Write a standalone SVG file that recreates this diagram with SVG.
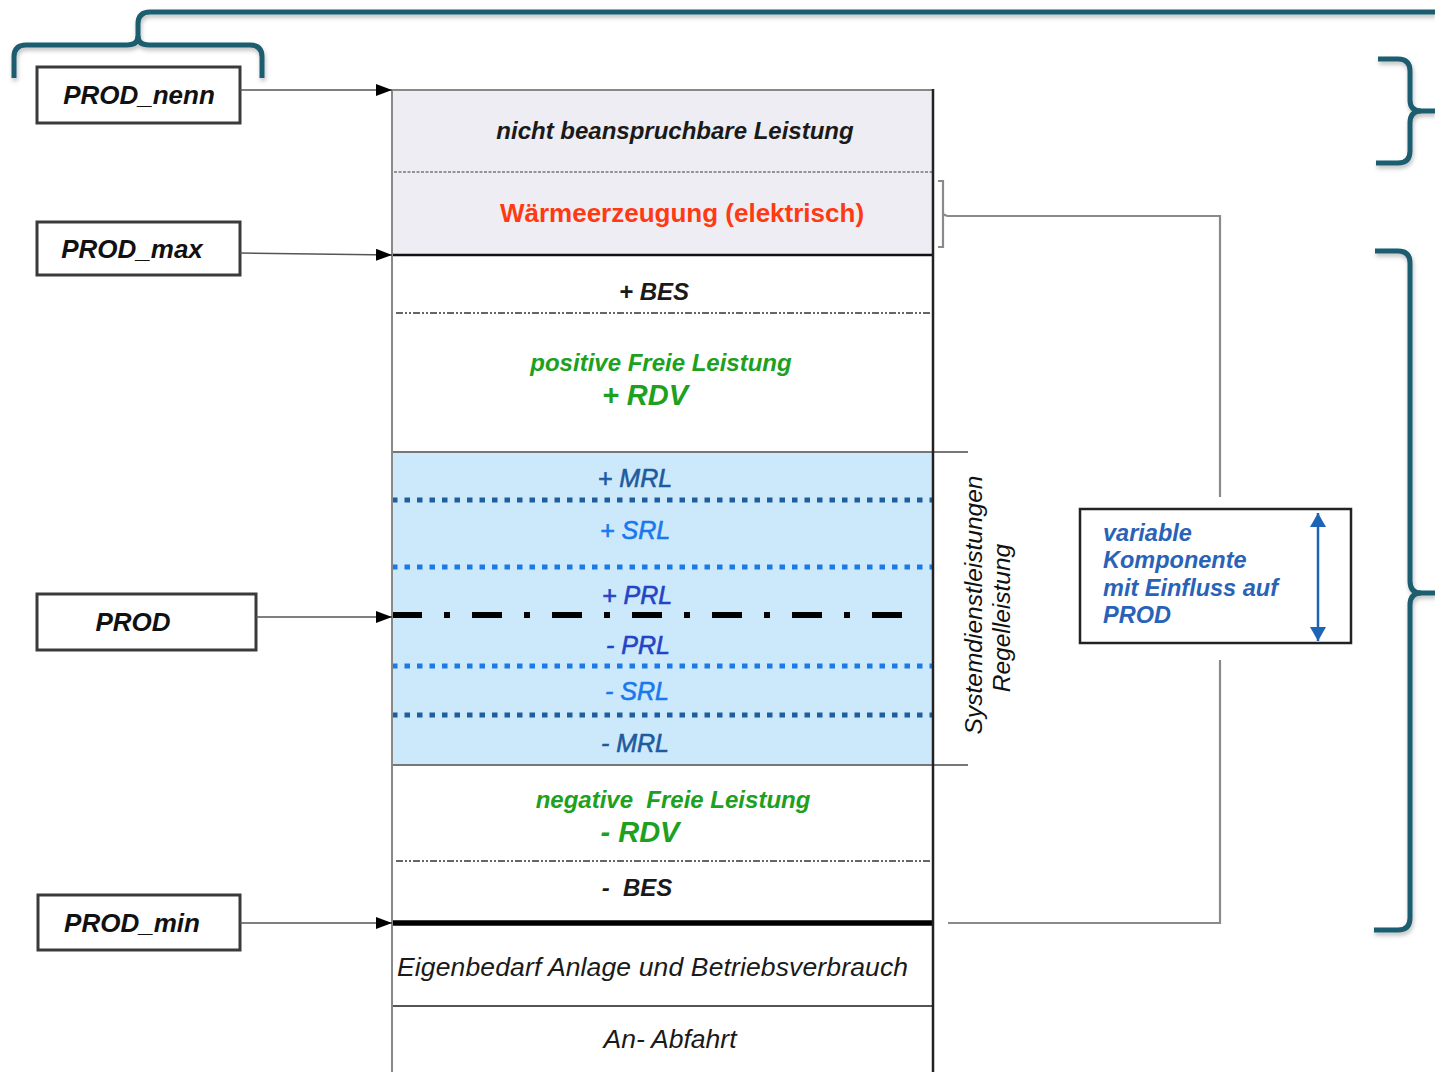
<svg xmlns="http://www.w3.org/2000/svg" width="1435" height="1072" viewBox="0 0 1435 1072">
  <style>
    text { font-family: "Liberation Sans", Arial, sans-serif; }
    .lbl { font-weight: bold; font-style: italic; font-size: 26px; fill: #111; text-anchor: middle; }
    .box { fill: #fff; stroke: #3a3a3a; stroke-width: 3; }
    .brace { fill: none; stroke: #1c5d6f; stroke-width: 5; stroke-linecap: butt; stroke-linejoin: round; }
    .conn { fill: none; stroke: #555; stroke-width: 1.6; }
    .gconn { fill: none; stroke: #8a8a8a; stroke-width: 2.2; }
    .hdr { font-weight: bold; font-style: italic; font-size: 24px; fill: #1a1a1a; text-anchor: middle; }
    .green { font-weight: bold; font-style: italic; font-size: 24px; fill: #20a020; text-anchor: middle; }
    .rdv { font-weight: bold; font-style: italic; font-size: 29px; fill: #20a020; text-anchor: middle; }
    .band { font-style: italic; font-size: 25px; text-anchor: middle; stroke-width: 0.6; }
    .mrl { fill: #1e5a9e; stroke: #1e5a9e; }
    .srl { fill: #1a78ee; stroke: #1a78ee; }
    .prl { fill: #2444c8; stroke: #2444c8; }
    .plain { font-style: italic; font-size: 26.5px; fill: #1a1a1a; }
    .vert { font-style: italic; font-size: 24.5px; fill: #111; text-anchor: middle; }
    .var { font-weight: bold; font-style: italic; font-size: 23.5px; fill: #2a62b8; }
    .sep { fill: none; stroke: #666; stroke-width: 2; stroke-dasharray: 7 2 2 2 2 2; }
    .dotdark { fill: none; stroke: #1c5e9e; stroke-width: 5; stroke-dasharray: 5.5 7; }
    .dotbright { fill: none; stroke: #1a7aea; stroke-width: 5; stroke-dasharray: 5.5 7; }
  </style>
  <defs>
    <marker id="arrow" viewBox="0 0 16 12" refX="16" refY="6" markerWidth="16" markerHeight="12" markerUnits="userSpaceOnUse" orient="auto">
      <path d="M0,0 L16,6 L0,12 Z" fill="#000"/>
    </marker>
    <marker id="blueHead" viewBox="0 0 14 16" refX="14" refY="8" markerWidth="14" markerHeight="16" markerUnits="userSpaceOnUse" orient="auto">
      <path d="M0,0 L14,8 L0,16 Z" fill="#1e64b4"/>
    </marker>
    <filter id="soft" x="-5%" y="-5%" width="110%" height="120%">
      <feDropShadow dx="1" dy="3" stdDeviation="2" flood-color="#000" flood-opacity="0.25"/>
    </filter>
  </defs>

  <rect width="1435" height="1072" fill="#fff"/>

  <!-- power stack column -->
  <g id="stack">
    <rect x="392" y="90" width="541" height="165" fill="#ededf3"/>
    <rect x="392" y="452" width="541" height="313" fill="#cce9fb"/>
    <!-- horizontal boundaries -->
    <line x1="392" y1="90" x2="933" y2="90" stroke="#888" stroke-width="2"/>
    <line x1="394" y1="172" x2="933" y2="172" stroke="#777" stroke-width="1.5" stroke-dasharray="3 1.5"/>
    <line x1="392" y1="255" x2="933" y2="255" stroke="#111" stroke-width="2.5"/>
    <line x1="396" y1="313" x2="933" y2="313" class="sep"/>
    <line x1="392" y1="452" x2="968" y2="452" stroke="#777" stroke-width="2"/>
    <line x1="392" y1="500" x2="933" y2="500" class="dotdark"/>
    <line x1="392" y1="567" x2="933" y2="567" class="dotbright"/>
    <line x1="392" y1="615" x2="916" y2="615" stroke="#000" stroke-width="6" stroke-dasharray="30 22 6 22"/>
    <line x1="392" y1="666" x2="933" y2="666" class="dotbright"/>
    <line x1="392" y1="715" x2="933" y2="715" class="dotdark"/>
    <line x1="392" y1="765" x2="968" y2="765" stroke="#777" stroke-width="2"/>
    <line x1="396" y1="861" x2="933" y2="861" class="sep" stroke="#999"/>
    <line x1="392" y1="923" x2="933" y2="923" stroke="#000" stroke-width="5.5"/>
    <line x1="392" y1="1006" x2="933" y2="1006" stroke="#555" stroke-width="2"/>
    <!-- column sides -->
    <line x1="392" y1="90" x2="392" y2="1072" stroke="#888" stroke-width="2"/>
    <line x1="933" y1="89" x2="933" y2="1072" stroke="#222" stroke-width="2.5"/>

    <text class="hdr" x="675" y="139">nicht beanspruchbare Leistung</text>
    <text x="682" y="222" font-weight="bold" font-size="26" fill="#ff3a12" text-anchor="middle">Wärmeerzeugung (elektrisch)</text>
    <text class="hdr" x="654" y="300" font-size="23">+ BES</text>
    <text class="green" x="661" y="371">positive Freie Leistung</text>
    <text class="rdv" x="645" y="405">+ RDV</text>
    <text class="band mrl" x="635" y="487">+ MRL</text>
    <text class="band srl" x="635" y="539">+ SRL</text>
    <text class="band prl" x="637" y="604">+ PRL</text>
    <text class="band prl" x="638" y="654">- PRL</text>
    <text class="band srl" x="637" y="700">- SRL</text>
    <text class="band mrl" x="635" y="752">- MRL</text>
    <text class="green" x="673" y="808" xml:space="preserve">negative  Freie Leistung</text>
    <text class="rdv" x="640" y="842">- RDV</text>
    <text class="hdr" x="637" y="896" font-size="23" xml:space="preserve">-  BES</text>
    <text class="plain" x="397" y="976" textLength="511">Eigenbedarf Anlage und Betriebsverbrauch</text>
    <text class="plain" x="670" y="1048" text-anchor="middle">An- Abfahrt</text>

    <text class="vert" transform="translate(982 605) rotate(-90)">Systemdienstleistungen</text>
    <text class="vert" transform="translate(1010 618) rotate(-90)">Regelleistung</text>
  </g>

  <!-- level boxes on the left -->
  <g id="prod-nenn">
    <rect class="box" x="37" y="67" width="203" height="56"/>
    <text class="lbl" x="139" y="104">PROD_nenn</text>
  </g>
  <g id="prod-max">
    <rect class="box" x="37" y="222" width="203" height="53"/>
    <text class="lbl" x="132" y="258">PROD_max</text>
  </g>
  <g id="prod">
    <rect class="box" x="37" y="594" width="219" height="56"/>
    <text class="lbl" x="133" y="631">PROD</text>
  </g>
  <g id="prod-min">
    <rect class="box" x="38" y="895" width="202" height="55"/>
    <text class="lbl" x="132" y="932">PROD_min</text>
  </g>

  <!-- variable component box -->
  <g id="variable">
    <rect x="1080" y="509" width="271" height="134" fill="#fff" stroke="#222" stroke-width="2.5"/>
    <text class="var" x="1103" y="541">variable</text>
    <text class="var" x="1103" y="568">Komponente</text>
    <text class="var" x="1103" y="596">mit Einfluss auf</text>
    <text class="var" x="1103" y="623">PROD</text>
    <line x1="1318" y1="577" x2="1318" y2="513" stroke="#1e64b4" stroke-width="2.5" marker-end="url(#blueHead)"/>
    <line x1="1318" y1="577" x2="1318" y2="641" stroke="#1e64b4" stroke-width="2.5" marker-end="url(#blueHead)"/>
  </g>

  <!-- braces -->
  <g id="braces" filter="url(#soft)">
    <path class="brace" d="M1435 12 H150 Q138 12 138 24 V36 Q138 45 127 45 H26 Q14 45 14 57 V78"/>
    <path class="brace" d="M138 36 Q138 45 149 45 H250 Q262 45 262 57 V78"/>
    <path class="brace" d="M1378 59 H1398 Q1410 59 1410 71 V100 Q1410 111 1421 111 H1435"/>
    <path class="brace" d="M1421 111 Q1410 111 1410 123 V151 Q1410 163 1398 163 H1376"/>
    <path class="brace" d="M1375 251 H1398 Q1410 251 1410 263 V581 Q1410 593 1421 593 H1435"/>
    <path class="brace" d="M1421 593 Q1410 593 1410 605 V918 Q1410 930 1398 930 H1374"/>
  </g>

  <!-- connectors -->
  <g id="connectors">
    <line class="conn" x1="240" y1="90" x2="392" y2="90" marker-end="url(#arrow)"/>
    <line class="conn" x1="240" y1="253" x2="392" y2="255" marker-end="url(#arrow)"/>
    <line class="conn" x1="256" y1="617" x2="392" y2="617" marker-end="url(#arrow)"/>
    <line class="conn" x1="240" y1="923" x2="392" y2="923" marker-end="url(#arrow)"/>
    <path class="gconn" d="M938 181 H943 V247 H938 M943 214 L947 216"/>
    <path class="gconn" d="M947 216 H1220 V497"/>
    <path class="gconn" d="M1220 660 V923 H948"/>
  </g>
</svg>
